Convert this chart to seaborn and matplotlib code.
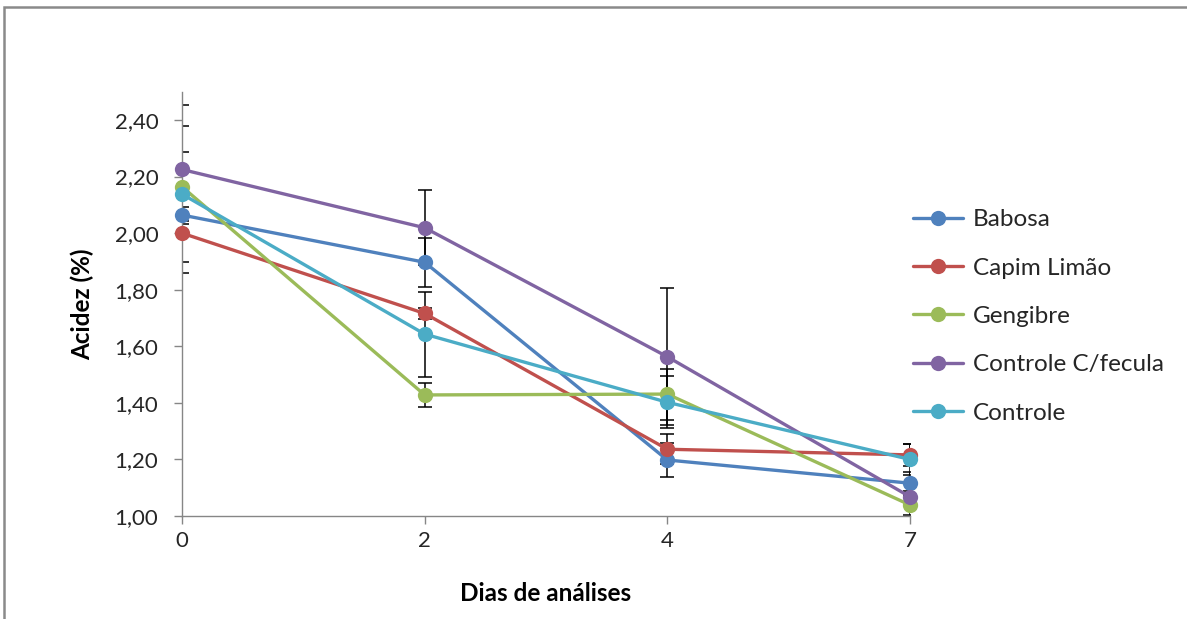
import matplotlib
matplotlib.use('Agg')
import matplotlib.pyplot as plt
from matplotlib.lines import Line2D
from matplotlib.patches import Rectangle
import seaborn as sns
import pandas as pd

dias = ['0', '2', '4', '7']
tratamentos = ['Babosa', 'Capim Limão', 'Gengibre', 'Controle C/fecula', 'Controle']
cores = ['#4F81BD', '#C0504D', '#9BBB59', '#8064A2', '#4BACC6']

babosa = [2.064, 1.897, 1.198, 1.116]
capim = [2.000, 1.716, 1.236, 1.216]
gengibre = [2.164, 1.428, 1.431, 1.039]
fecula = [2.225, 2.019, 1.563, 1.068]
controle = [2.138, 1.643, 1.402, 1.200]

err_babosa = [0.030, 0.087, 0.059, 0.040]
err_capim = [0.140, 0.020, 0.053, 0.040]
err_gengibre = [0.122, 0.043, 0.090, 0.035]
err_fecula = [0.228, 0.133, 0.242, 0.020]
err_controle = [0.240, 0.150, 0.092, 0.055]

y_ticks = [1.0, 1.2, 1.4, 1.6, 1.8, 2.0, 2.2, 2.4]
y_labels = ['1,00', '1,20', '1,40', '1,60', '1,80', '2,00', '2,20', '2,40']

series = [babosa, capim, gengibre, fecula, controle]
erros = [err_babosa, err_capim, err_gengibre, err_fecula, err_controle]

rows = []
for nome, vals, errs in zip(tratamentos, series, erros):
    for i, (v, e) in enumerate(zip(vals, errs)):
        rows.append({'pos': i, 'dia': dias[i], 'trat': nome, 'acidez': v, 'erro': e})
df = pd.DataFrame(rows)

sns.set_style('white')
plt.rcParams['font.family'] = ['Lato', 'DejaVu Sans']

fig = plt.figure(figsize=(11.87, 6.19), dpi=100)
ax = fig.add_axes([182 / 1187, 1 - 516 / 619, 728 / 1187, (516 - 91.7) / 619])

# error bars below the lines
for nome in tratamentos:
    d = df[df['trat'] == nome]
    ax.errorbar(d['pos'], d['acidez'], yerr=d['erro'], fmt='none',
                ecolor='black', elinewidth=1.1, capsize=5, capthick=1.1, zorder=2)

sns.lineplot(data=df, x='pos', y='acidez', hue='trat', hue_order=tratamentos,
             palette=cores, marker='o', markersize=11, markeredgewidth=0,
             linewidth=2.4, errorbar=None, sort=False, legend=False,
             clip_on=False, zorder=3, ax=ax)

ax.set_xlim(0, 3)
ax.set_ylim(1.0, 2.5)
ax.set_xticks(range(len(dias)))
ax.set_xticklabels(dias, fontsize=16)
ax.set_yticks(y_ticks)
ax.set_yticklabels(y_labels, fontsize=16)

sns.despine(ax=ax)
for s in ['left', 'bottom']:
    ax.spines[s].set_color('#868686')
    ax.spines[s].set_linewidth(1.0)
ax.tick_params(axis='both', direction='out', length=6, width=1.0, color='#868686',
               colors='#262626', left=True, bottom=True, pad=5)
ax.tick_params(axis='y', pad=11)

ax.set_xlabel('Dias de análises', fontsize=17.5, fontweight='bold', color='black')
ax.set_ylabel('Acidez (%)', fontsize=17.5, fontweight='bold', color='black')
ax.xaxis.set_label_coords(0.5, -0.155)
ax.yaxis.set_label_coords(-0.12, 0.5)

handles = [Line2D([0], [0], color=c, lw=2.4, marker='o', markersize=11, markeredgewidth=0)
           for c in cores]
fig.legend(handles, tratamentos, loc='center left',
           bbox_to_anchor=(913 / 1187, 1 - 316.5 / 619), frameon=False,
           fontsize=17.5, handlelength=2.05, handletextpad=0.4, labelspacing=1.13,
           borderpad=0, borderaxespad=0, numpoints=1)

# outer chart frame
fig.patches.append(Rectangle((4 / 1187, -0.05), 1.1, 1 - 7 / 619 + 0.05,
                             transform=fig.transFigure, fill=False,
                             edgecolor='#8a8a8a', linewidth=1.8))

fig.savefig('out.png', dpi=100)
